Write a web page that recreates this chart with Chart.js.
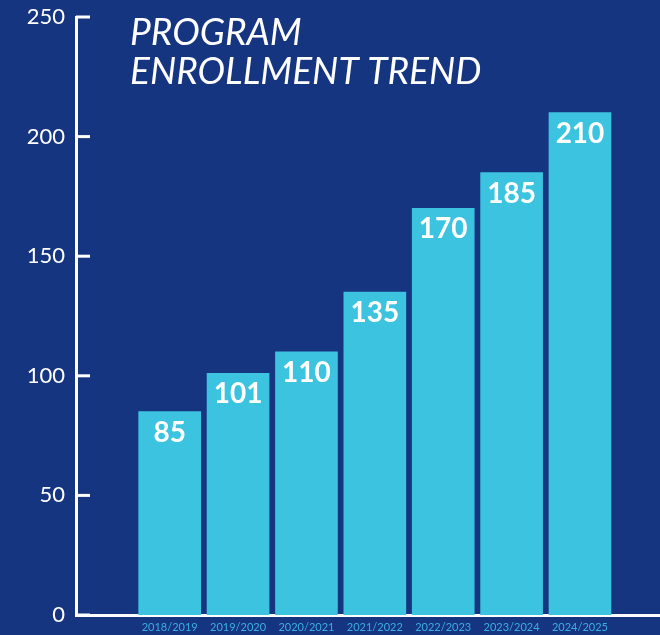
<!DOCTYPE html>
<html>
<head>
<meta charset="utf-8">
<script src="https://cdn.jsdelivr.net/npm/chart.js@4"></script>
<style>
    html, body { margin: 0; padding: 0; background: #163581; }
    #wrap { width: 660px; height: 635px; position: relative; }
</style>
</head>
<body>
<div id="wrap"><canvas id="chart"></canvas></div>
<script>
// --- dados do gráfico ---
const categories = ['2018/2019', '2019/2020', '2020/2021', '2021/2022', '2022/2023', '2023/2024', '2024/2025'];
const enrollment = [85, 101, 110, 135, 170, 185, 210];
const yTicks = [0, 50, 100, 150, 200, 250];
const titleLines = ['PROGRAM', 'ENROLLMENT TREND'];

const BG = '#163581';
const BAR = '#3cc3df';

// fundo do canvas
const bgPlugin = {
    id: 'bg',
    beforeDraw(chart) {
        const ctx = chart.ctx;
        ctx.save();
        ctx.fillStyle = BG;
        ctx.fillRect(0, 0, chart.width, chart.height);
        ctx.restore();
    }
};

// marcas do eixo y voltadas para dentro
const innerTicks = {
    id: 'innerTicks',
    afterDatasetsDraw(chart) {
        const ctx = chart.ctx;
        const y = chart.scales.y;
        const left = chart.chartArea.left;
        ctx.save();
        ctx.strokeStyle = '#ffffff';
        ctx.lineWidth = 3;
        y.ticks.forEach(t => {
            const py = y.getPixelForValue(t.value);
            ctx.beginPath();
            ctx.moveTo(left, py);
            ctx.lineTo(left + 14, py);
            ctx.stroke();
        });
        ctx.restore();
    }
};

// valores dentro das barras
const valueLabels = {
    id: 'valueLabels',
    afterDatasetsDraw(chart) {
        const ctx = chart.ctx;
        const meta = chart.getDatasetMeta(0);
        ctx.save();
        ctx.fillStyle = '#ffffff';
        ctx.font = 'bold 28px Lato, "Open Sans", sans-serif';
        ctx.textAlign = 'center';
        ctx.textBaseline = 'middle';
        meta.data.forEach((bar, i) => {
            ctx.fillText(String(enrollment[i]), bar.x, bar.y + 21);
        });
        ctx.restore();
    }
};

// título em itálico sobre a área do gráfico
const titleOverlay = {
    id: 'titleOverlay',
    afterDraw(chart) {
        const ctx = chart.ctx;
        ctx.save();
        ctx.fillStyle = '#ffffff';
        ctx.font = 'italic 37px Lato, "Open Sans", sans-serif';
        ctx.textAlign = 'left';
        ctx.textBaseline = 'alphabetic';
        titleLines.forEach((line, i) => {
            ctx.fillText(line, 130, 45 + i * 39);
        });
        ctx.restore();
    }
};

new Chart(document.getElementById('chart'), {
    type: 'bar',
    data: {
        datasets: [{
            data: enrollment.map((v, i) => ({ x: i + 1, y: v })),
            backgroundColor: BAR,
            borderWidth: 0,
            barThickness: 62
        }]
    },
    options: {
        responsive: true,
        maintainAspectRatio: false,
        animation: false,
        layout: { padding: { top: 17, right: 0, left: 0, bottom: 0 } },
        plugins: {
            legend: { display: false },
            tooltip: { enabled: false }
        },
        scales: {
            x: {
                type: 'linear',
                offset: false,
                min: -0.37,
                max: 8.17,
                afterBuildTicks: axis => { axis.ticks = categories.map((c, i) => ({ value: i + 1 })); },
                afterFit: axis => { axis.height = 20; axis.paddingLeft = 0; axis.paddingRight = 0; },
                grid: { display: false, drawTicks: false, offset: false },
                border: { display: true, color: '#ffffff', width: 3 },
                ticks: {
                    color: '#3caee0',
                    font: { family: 'Lato, "Open Sans", sans-serif', size: 11 },
                    padding: 6,
                    autoSkip: false,
                    maxRotation: 0,
                    callback: v => categories[v - 1] || ''
                }
            },
            y: {
                min: 0,
                max: 250,
                afterBuildTicks: axis => { axis.ticks = yTicks.map(v => ({ value: v })); },
                afterFit: axis => { axis.width = 76; axis.paddingTop = 0; axis.paddingBottom = 0; },
                grid: { display: false, drawTicks: false },
                border: { display: true, color: '#ffffff', width: 3 },
                ticks: {
                    color: '#ffffff',
                    font: { family: 'Lato, "Open Sans", sans-serif', size: 22 },
                    padding: 11
                }
            }
        }
    },
    plugins: [bgPlugin, innerTicks, valueLabels, titleOverlay]
});
</script>
</body>
</html>
